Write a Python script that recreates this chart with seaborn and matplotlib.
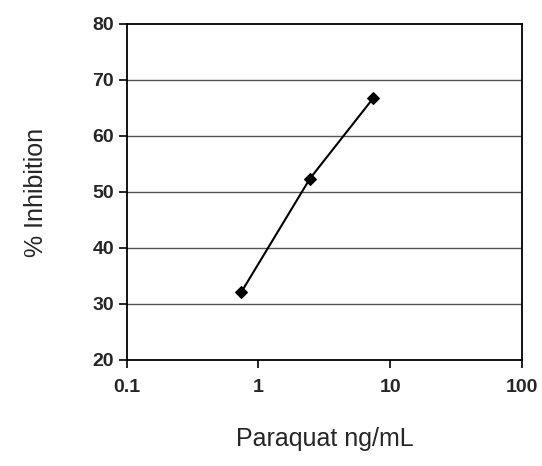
import matplotlib
matplotlib.use("Agg")
import matplotlib.pyplot as plt
import seaborn as sns
import pandas as pd

concentration = [0.74, 2.46, 7.4]
inhibition = [32.1, 52.4, 66.7]
x_ticks = [0.1, 1, 10, 100]
x_tick_labels = ["0.1", "1", "10", "100"]
y_ticks = [20, 30, 40, 50, 60, 70, 80]

sns.set_style("white")
plt.rcParams['font.family'] = ['Liberation Sans', 'DejaVu Sans']

df = pd.DataFrame({"conc": concentration, "inh": inhibition})

fig = plt.figure(figsize=(5.42, 4.66), dpi=100)
ax = fig.add_axes([0.2338, 0.2275, 0.7292, 0.721])

for y in y_ticks[1:-1]:
    ax.axhline(y, color="#555555", lw=1.0, zorder=0)

sns.lineplot(data=df, x="conc", y="inh", ax=ax, color="black", lw=1.5,
             marker="D", markersize=6, markeredgecolor="black", markerfacecolor="black")

ax.set_xscale("log")
ax.set_xlim(0.1, 100)
ax.set_ylim(20, 80)
ax.set_xticks(x_ticks)
ax.set_xticklabels(x_tick_labels)
ax.minorticks_off()
ax.set_yticks(y_ticks)
ax.tick_params(axis="both", direction="out", length=6, width=1.2, color="black",
               labelsize=14, pad=3, bottom=True, left=True)
for lbl in ax.get_xticklabels() + ax.get_yticklabels():
    lbl.set_fontweight("bold")
ax.tick_params(axis="x", pad=8)

for s in ax.spines.values():
    s.set_color("black")
    s.set_linewidth(1.3)

ax.set_xlabel("Paraquat ng/mL", fontsize=18, labelpad=22)
ax.set_ylabel("% Inhibition", fontsize=18, labelpad=32)

fig.savefig("out.png", dpi=100)
